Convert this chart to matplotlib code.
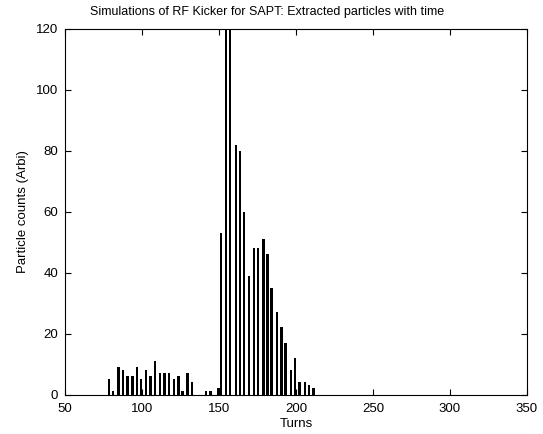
"""
plot.py
-------
Extracted particles vs. turns for the SAPT RF kicker simulation.
Saves out.png.
"""

import matplotlib
matplotlib.use("Agg")
import matplotlib.pyplot as plt

# ── Data ──────────────────────────────────────────────────────
turns = [
    78.6, 81.0, 84.7, 87.5, 90.5, 93.7, 96.6, 99.2, 102.6, 105.6,
    108.4, 111.7, 114.5, 117.5, 120.8, 123.6, 126.4, 129.7, 132.5,
    141.6, 144.6, 149.6, 151.3, 154.7, 157.3, 161.0, 163.6, 166.2,
    169.5, 172.7, 175.3, 178.8, 181.6, 184.2, 187.7, 190.5, 193.3,
    196.8, 199.4, 202.4, 205.8, 208.4, 211.5,
]
counts = [
    5, 1, 9, 8, 6, 6, 9, 5, 8, 6,
    11, 7, 7, 7, 5, 6, 1, 7, 4,
    1, 1, 2, 53, 125, 125, 82, 80, 60,
    39, 48, 48, 51, 46, 35, 27, 22, 17,
    8, 12, 4, 4, 3, 2,
]

x_ticks = [50, 100, 150, 200, 250, 300, 350]
y_ticks = [0, 20, 40, 60, 80, 100, 120]

# ── Plot style ────────────────────────────────────────────────
plt.rcParams.update({
    "font.family":     ["Liberation Sans", "DejaVu Sans"],
    "font.size":       9,
    "xtick.direction": "in",
    "ytick.direction": "in",
    "xtick.top":       True,
    "ytick.right":     True,
    "axes.linewidth":  0.8,
})

fig = plt.figure(figsize=(5.43, 4.34), dpi=100)
ax = fig.add_axes([0.1197, 0.091, 0.8508, 0.8422])

ax.bar(turns, counts, width=1.6, color="black", linewidth=0)

ax.set_xlim(50, 350)
ax.set_ylim(0, 120)
ax.set_xticks(x_ticks)
ax.set_yticks(y_ticks)
ax.tick_params(length=4, width=0.8, labelsize=9.5)
ax.tick_params(axis="x", pad=6)
ax.tick_params(axis="y", pad=5)

# title sits centred on the figure, not on the axes
fig.text(267.5 / 543, 1 - 12 / 434,
         "Simulations of RF Kicker for SAPT: Extracted particles with time",
         fontsize=9, ha="center", va="center")
ax.set_xlabel("Turns", fontsize=9.5, labelpad=2)
ax.set_ylabel("Particle counts (Arbi)", fontsize=9.5, labelpad=5)

fig.savefig("out.png", dpi=100)
plt.close(fig)
